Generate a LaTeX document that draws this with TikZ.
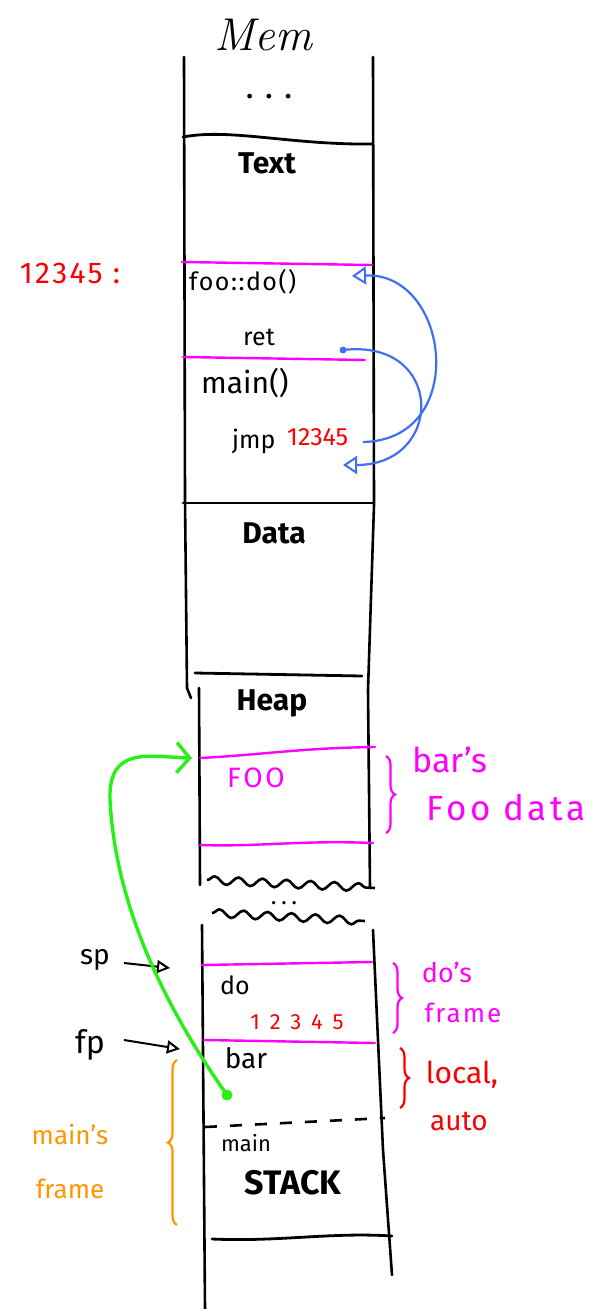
\documentclass[tikz,border=0pt]{standalone}
\usepackage{fontspec}
\setsansfont{Fira Sans}
\usetikzlibrary{arrows.meta,decorations.pathreplacing,decorations.pathmorphing}
\definecolor{mag}{RGB}{255,0,255}
\definecolor{redink}{RGB}{250,0,0}
\definecolor{blueink}{RGB}{64,112,240}
\definecolor{greenink}{RGB}{40,240,20}
\definecolor{orangeink}{RGB}{255,150,0}
\begin{document}
\begin{tikzpicture}[x=1pt,y=-1pt,font=\sffamily,
  wall/.style={line width=2.6pt,line cap=round,line join=round},
  divider/.style={line width=2.8pt,line cap=round},
  region/.style={line width=2.4pt,mag,line cap=round},
  wave/.style={line width=2.6pt,decorate,decoration={snake,segment length=24pt,amplitude=4pt}},
  hdr/.style={inner sep=0pt,font=\sffamily\bfseries\fontsize{30}{32}\selectfont},
  lbl/.style={inner sep=0pt,font=\sffamily\fontsize{25}{27}\selectfont},
  big/.style={inner sep=0pt,font=\sffamily\fontsize{30}{32}\selectfont},
  note/.style={inner sep=0pt,font=\sffamily\fontsize{28}{30}\selectfont},
  brace/.style={line width=2.2pt,decorate,decoration={brace,amplitude=9pt}},
  jump/.style={blueink,line width=2.2pt,-{Triangle[open,length=14pt,width=18pt,line width=2pt]}},
  ptr/.style={line width=2pt,-{Triangle[open,length=13pt,width=13pt,line width=2pt]}}]
\fill[white] (0,0) rectangle (607,1309);
\useasboundingbox (0,0) rectangle (607,1309);

% title
\node[inner sep=0pt,font=\rmfamily\itshape\fontsize{46}{48}\selectfont] (mem) at (263,35) {Mem};

% column walls
\draw[wall] (184,57) -- (185,500) -- (187,688) -- (191,698);
\draw[wall] (373,57) -- (374,505) -- (368,690) -- (370,888);
\draw[wall] (199,688) -- (200,885);
\draw[wall] (202,925) -- (205,1309);
\draw[wall] (373,930) -- (383,1150) -- (392,1275);

% segment dividers
\draw[divider] (183,137) .. controls (230,128) and (290,145) .. (372,144);
\draw[divider] (183,503) -- (373,503);
\draw[divider] (195,673) -- (362,676);
\draw[divider] (212,1239) .. controls (280,1242) and (330,1232) .. (392,1236);
\draw[wave] (207,880) -- (375,888);
\draw[wave] (212,913) -- (365,921);
\node[inner sep=0pt,font=\sffamily\bfseries\fontsize{18}{20}\selectfont] (gap) at (284,903) {.\,\,.\,\,.};
\draw[line width=2.6pt,dash pattern=on 12pt off 13pt] (205,1127) -- (385,1118);

% text segment
\node[inner sep=0pt,font=\sffamily\bfseries\fontsize{26}{28}\selectfont] (dots) at (269,97) {.\,\,\,.\,\,\,.};
\node[hdr] (text) at (267,163) {Text};
\draw[region] (182,262) -- (372,265);
\node[lbl,anchor=west,font=\sffamily\fontsize{25}{27}\selectfont\addfontfeature{LetterSpace=6}] (foo) at (189,282) {foo::do()};
\node[lbl] (ret) at (259,337) {ret};
\draw[region] (183,357) -- (365,360);
\node[big,anchor=west] (mainfn) at (201,383) {main()};
\node[lbl,anchor=west] (jmp) at (232,441) {jmp};
\node[lbl,redink,anchor=west] (target) at (287,437) {12345};
\node[note,redink,font=\sffamily\fontsize{30}{32}\selectfont\addfontfeature{LetterSpace=8}] (addr) at (70,273) {12345 :};

% control transfers
\coordinate (callfrom) at (363,442);
\coordinate (callto) at (352,276);
\coordinate (retfrom) at (343,350);
\coordinate (retto) at (343,465);
\draw[jump] (callfrom) .. controls (470,440) and (450,272) .. (callto);
\fill[blueink] (retfrom) circle (3.5pt);
\draw[jump] (retfrom) .. controls (445,338) and (445,465) .. (retto);

% data and heap
\node[hdr] (data) at (274,533) {Data};
\node[hdr] (heap) at (272,703) {Heap};
\draw[region] (200,758) .. controls (260,755) and (300,748) .. (375,747);
\draw[region] (200,845) .. controls (260,847) and (300,840) .. (373,843);
\node[lbl,mag,font=\sffamily\fontsize{28}{30}\selectfont\addfontfeature{LetterSpace=10}] (fooobj) at (256,778) {FOO};
\draw[brace,mag] (386,756) -- (386,833);
\node[inner sep=0pt,mag,font=\sffamily\fontsize{34}{36}\selectfont] (bars) at (450,760) {bar's};
\node[inner sep=0pt,mag,font=\sffamily\fontsize{35}{37}\selectfont\addfontfeature{LetterSpace=10}] (foodata) at (506,808) {Foo data};

% stack
\draw[region] (202,965) -- (372,962);
\node[lbl] (do) at (235,985) {do};
\node[lbl,redink,font=\sffamily\fontsize{22}{24}\selectfont\addfontfeature{LetterSpace=45}] (saved) at (297,1022) {12345};
\draw[region] (204,1040) -- (375,1043);
\node[inner sep=0pt,font=\sffamily\fontsize{28}{30}\selectfont] (bar) at (246,1058) {bar};
\node[inner sep=0pt,font=\sffamily\fontsize{22}{24}\selectfont] (mainfr) at (246,1143) {main};
\node[inner sep=0pt,font=\sffamily\bfseries\fontsize{34}{36}\selectfont] (stack) at (293,1183) {STACK};

% stack and frame pointers
\node[note] (sp) at (95,960) {sp};
\node[inner sep=0pt,font=\sffamily\fontsize{32}{34}\selectfont] (fp) at (90,1045) {fp};
\coordinate (sptail) at (124,963);
\coordinate (sptip) at (170,968);
\coordinate (fptail) at (124,1040);
\coordinate (fptip) at (180,1049);
\draw[ptr] (sptail) -- (sptip);
\draw[ptr] (fptail) -- (fptip);

% frame annotations
\draw[brace,mag] (393,963) -- (393,1033);
\node[inner sep=0pt,mag,font=\sffamily\fontsize{27}{29}\selectfont] (dos) at (447,972) {do's};
\node[inner sep=0pt,mag,font=\sffamily\fontsize{26}{28}\selectfont\addfontfeature{LetterSpace=8}] (doframe) at (463,1013) {frame};
\draw[brace,redink] (400,1048) -- (400,1108);
\node[inner sep=0pt,redink,font=\sffamily\fontsize{30}{32}\selectfont] (local) at (462,1075) {local,};
\node[inner sep=0pt,redink,font=\sffamily\fontsize{28}{30}\selectfont] (auto) at (459,1121) {auto};
\draw[brace,orangeink] (177,1225) -- (177,1060);
\node[inner sep=0pt,orangeink,font=\sffamily\fontsize{26}{28}\selectfont] (mains) at (70,1135) {main's};
\node[inner sep=0pt,orangeink,font=\sffamily\fontsize{26}{28}\selectfont] (mainframe) at (70,1189) {frame};

% pointer from bar's local to its Foo on the heap
\coordinate (barptr) at (227,1095);
\coordinate (fooref) at (192,758);
\fill[greenink] (barptr) circle (5.5pt);
\draw[greenink,line width=3.4pt,line cap=round,-{Straight Barb[length=13pt,width=30pt,line width=3.4pt]}]
  (barptr) .. controls (160,1000) and (115,900) .. (110,800)
  .. controls (108,745) and (150,757) .. (fooref);
\end{tikzpicture}
\end{document}
